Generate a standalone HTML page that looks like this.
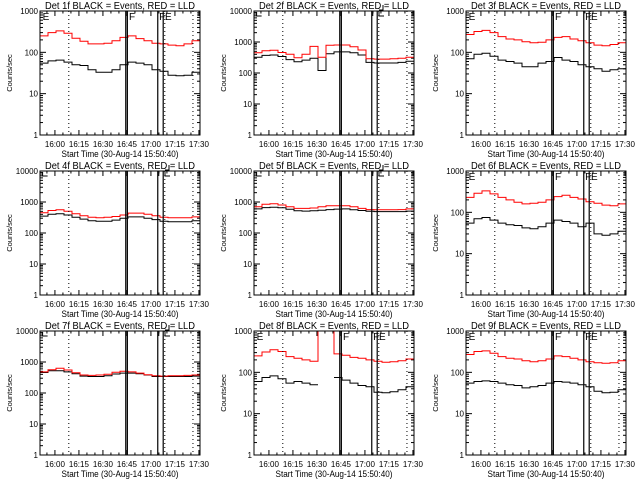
<!DOCTYPE html>
<html><head><meta charset="utf-8"><style>
html,body{margin:0;padding:0;background:#fff;}
svg{display:block;font-family:"Liberation Sans",sans-serif;}
</style></head><body>
<svg id="fig" width="640" height="480" viewBox="0 0 640 480"></svg>
<script>
// step times in minutes since 15:50:40
const times = [0,5,10,15,20,25,30,35,40,45,50,55,60,65,70,75,80,85,90,95,100];
const detNames = ["1f","2f","3f","4f","5f","6f","7f","8f","9f"];
const decades = [3,4,3,4,4,3,4,3,3];
const tickLabelsX = ["16:00","16:15","16:30","16:45","17:00","17:15","17:30"];
const tickTimesX = [9.33,24.33,39.33,54.33,69.33,84.33,99.33];
const markerLinesDotted = [18,78,95.6];
const markerLinesSolid = [53.6,54.6,73.6,77];
const red1 = [250,300,330,290,220,185,160,160,165,190,230,250,215,190,165,160,150,145,160,190,210];
const blk1 = [55,62,65,58,50,48,38,33,33,38,50,58,55,50,38,35,28,27,28,33,45];
const red2 = [450,520,540,460,400,310,400,720,320,780,800,800,700,550,290,280,280,290,300,320,380];
const blk2 = [320,370,380,340,270,230,260,300,120,420,480,480,450,380,220,210,210,210,220,240,270];
const red3 = [270,320,340,300,240,210,200,180,170,175,200,230,240,210,190,170,150,145,155,170,210];
const blk3 = [70,90,95,80,65,60,55,45,45,55,60,75,65,60,50,45,40,35,38,40,55];
const red4 = [450,530,560,500,420,360,320,310,320,340,380,440,440,400,360,320,310,310,310,330,380];
const blk4 = [350,400,420,380,320,280,250,240,240,260,300,330,330,300,270,240,230,230,230,250,290];
const red5 = [700,850,880,800,700,620,620,640,700,760,760,760,700,620,570,560,560,560,570,600,650];
const blk5 = [600,660,680,650,580,520,510,520,540,570,590,600,560,530,500,490,490,490,490,510,560];
const red6 = [230,290,330,280,230,200,175,160,165,175,200,240,260,230,210,180,165,150,145,160,210];
const blk6 = [55,70,75,65,55,50,48,42,40,45,55,65,60,55,45,55,30,28,30,35,50];
const red7 = [480,560,630,550,450,380,370,380,400,470,500,480,440,390,360,350,360,360,370,380,450];
const blk7 = [460,520,520,480,420,350,340,340,360,410,440,440,420,380,340,340,340,340,340,350,420];
const red8 = [250,310,350,320,240,220,200,185,3000,3000,280,260,230,220,200,185,175,180,190,210,240];
const blk8 = [60,75,82,70,55,60,55,50,null,null,75,65,55,48,45,33,32,34,38,45,55];
const red9 = [270,320,330,290,240,220,210,190,180,190,210,250,240,220,200,180,170,165,170,190,230];
const blk9 = [55,60,62,60,55,50,48,42,45,48,55,60,58,55,50,45,35,32,33,38,48];
const redSeries = [red1,red2,red3,red4,red5,red6,red7,red8,red9];
const blkSeries = [blk1,blk2,blk3,blk4,blk5,blk6,blk7,blk8,blk9];

const NS = "http://www.w3.org/2000/svg";
const svg = document.getElementById("fig");
function mk(tag, attrs, parent){
  const e = document.createElementNS(NS, tag);
  for (const k in attrs) e.setAttribute(k, attrs[k]);
  (parent||svg).appendChild(e);
  return e;
}
const colL = [40,254,466], rowT = [11,171,331], W = 160, H = 124, TMAX = 100;

for (let p = 0; p < 9; p++) {
  const L = colL[p%3], T = rowT[Math.floor(p/3)], nd = decades[p];
  const xs = t => L + t/TMAX*W;
  const ys = v => T + H - Math.log10(Math.max(v,1))/nd*H;
  const g = mk("g", {});
  
  
  const cid = "c"+p;
  const cp = mk("clipPath", {id: cid}, g);
  mk("rect", {x:L, y:T, width:W, height:H}, cp);
  const ti = mk("text", {x:L+W/2, y:T-2, "text-anchor":"middle", "font-size":"10", textLength:"150", lengthAdjust:"spacingAndGlyphs"}, g);
  ti.textContent = "Det " + detNames[p] + " BLACK = Events, RED = LLD";
  
  
  const xl = mk("text", {x:L+W/2, y:T+H+22, "text-anchor":"middle", "font-size":"9.5", textLength:"117", lengthAdjust:"spacingAndGlyphs"}, g);
  xl.textContent = "Start Time (30-Aug-14 15:50:40)";
  
  
  const yl = mk("text", {transform:"translate("+(L-28)+","+(T+H/2)+") rotate(-90)", "text-anchor":"middle", "font-size":"7.5"}, g);
  yl.textContent = "Counts/sec";
  
  
  for (let d = 0; d <= nd; d++) {
    const y = ys(Math.pow(10,d));
    const lb = mk("text", {x:L-2, y:y+3, "text-anchor":"end", "font-size":"8"}, g);
    lb.textContent = String(Math.pow(10,d));
    
    
    mk("line", {x1:L, x2:L+6, y1:y, y2:y, stroke:"#000"}, g);
    mk("line", {x1:L+W-6, x2:L+W, y1:y, y2:y, stroke:"#000"}, g);
    if (d < nd) for (let m = 2; m < 10; m++) {
      const ym = ys(m*Math.pow(10,d));
      mk("line", {x1:L, x2:L+3, y1:ym, y2:ym, stroke:"#000"}, g);
      mk("line", {x1:L+W-3, x2:L+W, y1:ym, y2:ym, stroke:"#000"}, g);
    }
  }
  tickTimesX.forEach((t,i) => {
    const x = xs(t);
    mk("line", {x1:x, x2:x, y1:T+H, y2:T+H-5, stroke:"#000"}, g);
    mk("line", {x1:x, x2:x, y1:T, y2:T+5, stroke:"#000"}, g);
    const lb = mk("text", {x:x, y:T+H+12, "text-anchor":"middle", "font-size":"8"}, g);
    lb.textContent = tickLabelsX[i];
    
    
    for (let k = 1; k < 3; k++) {
      const xm = xs(t - 5*k);
      if (xm > L) { mk("line", {x1:xm, x2:xm, y1:T+H, y2:T+H-2.5, stroke:"#000"}, g); mk("line", {x1:xm, x2:xm, y1:T, y2:T+2.5, stroke:"#000"}, g); }
    }
  });
  [[blkSeries[p],"#000"],[redSeries[p],"#ff0000"]].forEach(([arr,col]) => {
    let d = "", pen = false;
    for (let i = 0; i < arr.length; i++) {
      if (arr[i] === null) { pen = false; continue; }
      const x0 = xs(times[i]), x1 = xs(i+1 < times.length ? times[i+1] : TMAX);
      const y = ys(arr[i]);
      d += (pen ? "L" : "M") + x0.toFixed(1) + "," + y.toFixed(1) + "L" + x1.toFixed(1) + "," + y.toFixed(1);
      pen = true;
    }
    const path = mk("path", {d:d, fill:"none", stroke:col, "stroke-width":"1", "clip-path":"url(#"+cid+")"}, g);
    
    
  });
  markerLinesDotted.forEach(t => { const x = xs(t); mk("line", {x1:x, x2:x, y1:T, y2:T+H, stroke:"#000", "stroke-dasharray":"1,3"}, g); });
  markerLinesSolid.forEach(t => { const x = xs(t); mk("line", {x1:x, x2:x, y1:T, y2:T+H, stroke:"#000", "stroke-width":"1.2"}, g); });
  if (nd === 3) {
    [[1,"E"],[55,"F"],[73.8,"F"],[77.5,"E"]].forEach(([t,s]) => {
      const f = mk("text", {x:xs(t)+1, y:T+9, "font-size":"10"}, g); f.textContent = s;
    });
  } else {
    [1,77.5].forEach(t => { const x = xs(t)+1; mk("path", {d:"M"+x+","+(T+1)+"L"+x+","+(T+5)+"L"+(x+5)+","+(T+5), fill:"none", stroke:"#000"}, g); });
    mk("path", {d:"M"+(xs(73.6)+1)+","+(T)+"L"+(xs(73.6)+1)+","+(T+5), stroke:"#000"}, g);
    mk("path", {d:"M"+(xs(77.5)+1)+","+(T-1)+"L"+(xs(77.5)+5)+","+(T-1)+"L"+(xs(77.5)+5)+","+(T-6), fill:"none", stroke:"#000"}, g);
  }
  const fr = mk("rect", {x:L, y:T, width:W, height:H, fill:"none", stroke:"#000"}, g);
  
  
}
</script>
</body></html>
